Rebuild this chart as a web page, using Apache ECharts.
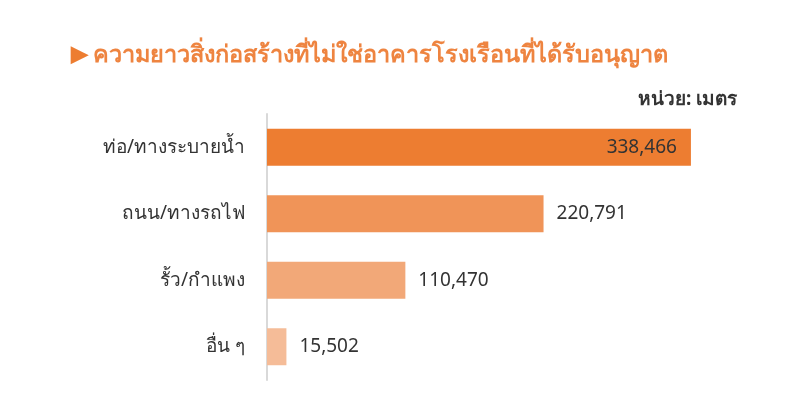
<!DOCTYPE html>
<html>
<head>
<meta charset="utf-8">
<script src="https://cdn.jsdelivr.net/npm/echarts@6/dist/echarts.min.js"></script>
<style>
  html, body { margin: 0; padding: 0; background: #fff; }
  #chart { width: 800px; height: 399px; }
</style>
</head>
<body>
<div id="chart"></div>
<script>
var categories = ['ท่อ/ทางระบายน้ำ', 'ถนน/ทางรถไฟ', 'รั้ว/กำแพง', 'อื่น ๆ'];
var values = [338466, 220791, 110470, 15502];
var barColors = ['#ED7D31', '#F09458', '#F2A878', '#F5BC98'];

var chart = echarts.init(document.getElementById('chart'));

var seriesData = values.map(function (v, i) {
    var item = { value: v, itemStyle: { color: barColors[i] } };
    if (i === 0) {
        // biggest bar keeps its label inside
        item.label = { position: 'insideRight', distance: 14 };
    }
    return item;
});

chart.setOption({
    textStyle: { fontFamily: 'Tahoma, "Noto Sans", sans-serif' },
    title: [{
        left: 66,
        top: 38,
        text: '{tri|▶} {t|ความยาวสิ่งก่อสร้างที่ไม่ใช่อาคารโรงเรือนที่ได้รับอนุญาต}',
        textStyle: {
            rich: {
                tri: { color: '#ED7D31', fontSize: 22 },
                t: { color: '#EE8440', fontSize: 23.5, fontWeight: 'bold' }
            }
        }
    }, {
        right: 58,
        top: 85,
        text: '{b|หน่วย:} {n|เมตร}',
        textStyle: {
            rich: {
                b: { color: '#333', fontSize: 19, fontWeight: 'bold' },
                n: { color: '#333', fontSize: 19 }
            }
        }
    }],
    grid: {
        left: 267,
        right: 32,
        top: 114,
        bottom: 19,
        containLabel: false
    },
    xAxis: {
        type: 'value',
        min: 0,
        max: 400000,
        show: false
    },
    yAxis: {
        type: 'category',
        inverse: true,
        data: categories,
        axisLine: { show: true, lineStyle: { color: '#d9d9d9', width: 2 } },
        axisTick: { show: false },
        axisLabel: { color: '#333', fontSize: 19, margin: 22 }
    },
    series: [{
        type: 'bar',
        data: seriesData,
        barWidth: 37,
        label: {
            show: true,
            position: 'right',
            distance: 13,
            color: '#333',
            fontSize: 19,
            formatter: function (p) {
                return p.value.toLocaleString('en-US');
            }
        }
    }]
});
</script>
</body>
</html>
